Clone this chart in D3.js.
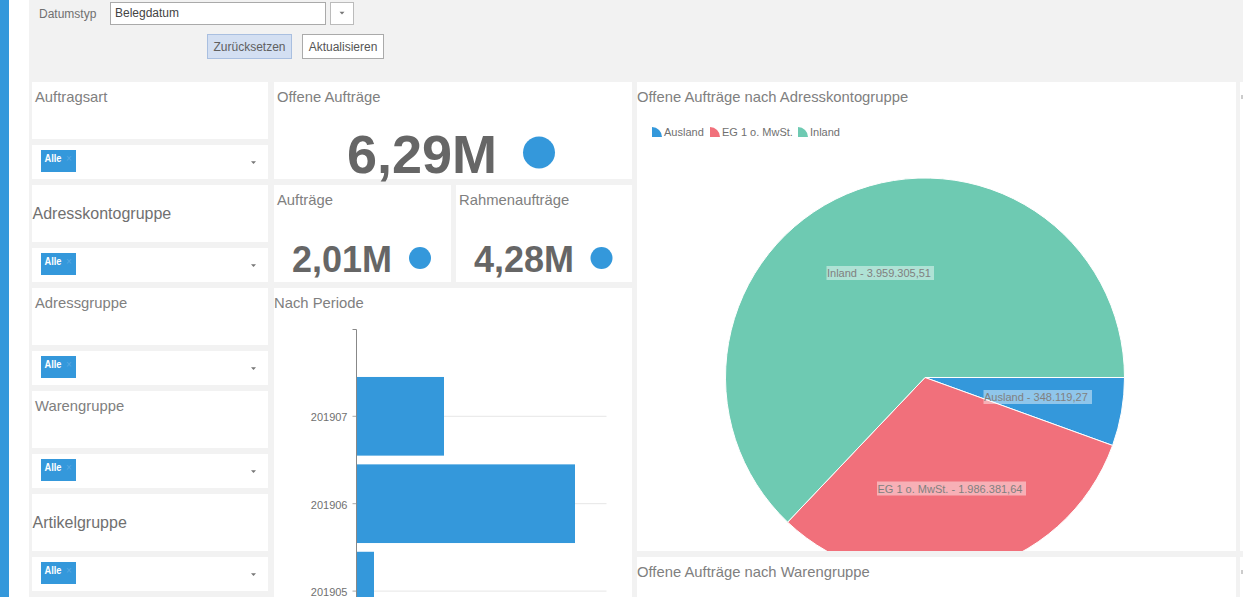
<!DOCTYPE html>
<html><head><meta charset="utf-8">
<script src="https://cdn.jsdelivr.net/npm/d3@7"></script>
<style>html,body{margin:0;padding:0;background:#f2f2f2;overflow:hidden}svg{display:block}text{font-family:"Liberation Sans",Arial,sans-serif}</style>
</head><body><svg id="c" width="1243" height="597"></svg>
<script>
const pieLabels = ["Ausland","EG 1 o. MwSt.","Inland"];
const pieValues = [348119.27,1986381.64,3959305.51];
const pieValueTexts = ["348.119,27","1.986.381,64","3.959.305,51"];
const pieColors = ["#3498db","#f1707b","#6ecab2"];
const periods = ["201907","201906","201905"];
const periodValues = [875000,2185000,175000];
const filterTitles = ["Auftragsart","Adresskontogruppe","Adressgruppe","Warengruppe","Artikelgruppe"];
const kpiTexts = ["6,29M","2,01M","4,28M"];

const W=1243,H=597,svg=d3.select("#c");
const grey="#808080", blue="#3498db", T=14.8;
function rect(x,y,w,h,f,s){const r=svg.append("rect").attr("x",x).attr("y",y).attr("width",w).attr("height",h).attr("fill",f);if(s)r.attr("stroke",s).attr("stroke-width",1);return r;}
function text(x,y,t,size,f,o={}){return svg.append("text").attr("x",x).attr("y",y).attr("font-size",size).attr("fill",f).attr("font-weight",o.w||"normal").attr("text-anchor",o.a||"start").text(t);}
function caret(x,y,f){svg.append("path").attr("d",`M${x-2.5},${y-1.2}L${x+2.5},${y-1.2}L${x},${y+1.6}Z`).attr("fill",f||"#777");}

rect(0,0,W,H,"#f2f2f2");
rect(0,0,9,H,blue);
rect(9,0,20,H,"#fff");

text(39,18,"Datumstyp",12,"#707070");
rect(110.5,2.5,215,22,"#fff","#aaa");
text(115,17,"Belegdatum",12,"#444");
rect(330.5,2.5,23,22,"#fff","#bbb");
caret(342,13);
rect(207.5,34.5,84,24,"#d3dff2","#a9bfe0");
text(249.5,51,"Zurücksetzen",12,"#606060",{a:"middle"});
rect(302.5,34.5,81,24,"#fff","#aaa");
text(343,51,"Aktualisieren",12,"#555",{a:"middle"});

const filterTops=[82,185,288,391,494];
filterTitles.forEach((t,i)=>{
  const y=filterTops[i], big=(i===1||i===4);
  rect(32,y,236,57,"#fff");
  rect(32,y+63,236,34,"#fff");
  text(big?32.5:35,y+(big?34:20),t,big?16:T,big?"#707070":grey);
  rect(41,y+68,35,22,blue);
  text(44.5,y+80,"Alle",11,"#fff",{w:"bold"}).attr("textLength",17).attr("lengthAdjust","spacingAndGlyphs");
  text(66,y+80,"×",10,"#5aa9e2");
  caret(253.5,y+80.5);
});

rect(274,82,358,97,"#fff");
text(277,102,"Offene Aufträge",T,grey);
text(422,173,kpiTexts[0],54,"#666",{a:"middle",w:"bold"});
svg.append("circle").attr("cx",539).attr("cy",152.5).attr("r",16).attr("fill",blue);

rect(274,185,177,97,"#fff");
text(277,205,"Aufträge",T,grey);
text(342,272,kpiTexts[1],36,"#666",{a:"middle",w:"bold"});
svg.append("circle").attr("cx",420).attr("cy",258).attr("r",11).attr("fill",blue);

rect(456,185,176,97,"#fff");
text(459,205,"Rahmenaufträge",T,grey);
text(524,272,kpiTexts[2],36,"#666",{a:"middle",w:"bold"});
svg.append("circle").attr("cx",601.5).attr("cy",258).attr("r",11).attr("fill",blue);

/* bar chart */
rect(274,288,358,309,"#fff");
text(274,308,"Nach Periode",T,grey);
const x0=356.5;
const xs=d3.scaleLinear().domain([0,2500000]).range([x0,606.5]);
const ys=d3.scaleBand().domain(periods).range([372.6,634.8]).paddingInner(0.1).paddingOuter(0.05);
const barG=svg.append("g");
barG.selectAll("line").data(periods).join("line")
  .attr("x1",x0).attr("x2",xs.range()[1])
  .attr("y1",d=>ys(d)+ys.bandwidth()/2).attr("y2",d=>ys(d)+ys.bandwidth()/2)
  .attr("stroke","#e6e6e6");
svg.append("g").selectAll("rect").data(periods).join("rect")
  .attr("x",x0-0.5).attr("y",d=>ys(d)).attr("height",ys.bandwidth())
  .attr("width",(d,i)=>xs(periodValues[i])-x0+0.5).attr("fill",blue);
const ax=svg.append("g").attr("transform",`translate(${x0},0)`).call(d3.axisLeft(ys).tickSize(4).tickPadding(5));
ax.select(".domain").remove();
ax.selectAll("line").attr("stroke","#aaa");
ax.selectAll("text").attr("font-size",11).attr("fill","#707070").attr("dy","0.45em").attr("font-family",'"Liberation Sans",Arial,sans-serif');
svg.append("path").attr("d",`M${x0-4},329.5H${x0}V597`).attr("fill","none").attr("stroke","#888");

/* pie */
rect(637,82,599,469,"#fff");
text(637,102,"Offene Aufträge nach Adresskontogruppe",T,grey);
const cx=925,cy=377.5,R=199.5;
svg.append("clipPath").attr("id","pc").append("rect").attr("x",637).attr("y",82).attr("width",599).attr("height",469);
const pie=d3.pie().sort(null).startAngle(Math.PI/2).endAngle(Math.PI*2.5)(pieValues);
const arc=d3.arc().innerRadius(0).outerRadius(R);
svg.append("g").attr("clip-path","url(#pc)")
  .selectAll("path").data(pie).join("path")
  .attr("transform",`translate(${cx},${cy})`)
  .attr("d",arc).attr("fill",(d,i)=>pieColors[i]).attr("stroke","#fff").attr("stroke-width",1);

/* legend */
const legendX=[652,710,798];
const legendSym=d3.arc().innerRadius(0).outerRadius(10).startAngle(0).endAngle(Math.PI/2);
pieLabels.forEach((l,i)=>{
  svg.append("path").attr("d",legendSym()).attr("transform",`translate(${legendX[i]},137)`).attr("fill",pieColors[i]);
  text(legendX[i]+12,136,l,11,"#707070");
});

/* pie labels */
const labelPos=[[983.5,390,108.5],[877,481.5,149],[826.5,266,107.5]];
pieLabels.forEach((l,i)=>{
  const p=labelPos[i];
  rect(p[0],p[1],p[2],14,"rgba(255,255,255,0.45)");
  text(p[0]+0.5,p[1]+11,l+" - "+pieValueTexts[i],11,"#808080");
});

rect(637,557,599,40,"#fff");
text(637,577,"Offene Aufträge nach Warengruppe",T,grey);

/* next column sliver */
rect(1240,82,3,469,"#fff");
rect(1240,557,3,40,"#fff");
rect(1241,95,2,4,"#ccc");
rect(1241,570,2,4,"#ccc");
</script></body></html>
